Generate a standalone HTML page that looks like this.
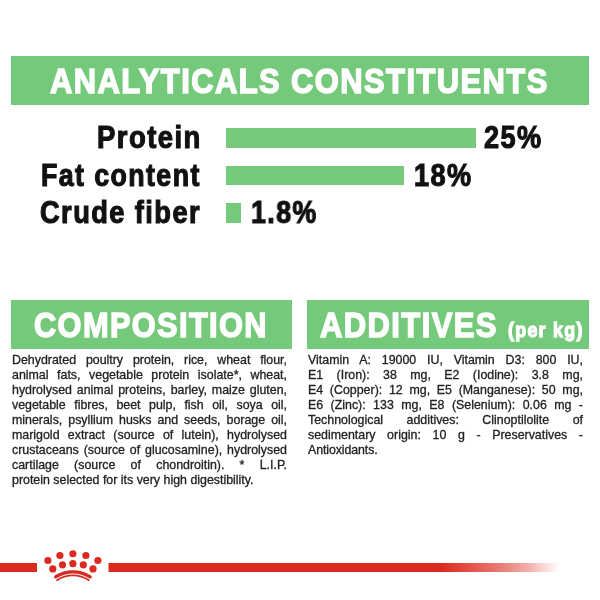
<!DOCTYPE html>
<html><head><meta charset="utf-8">
<style>
html,body{margin:0;padding:0;background:#fff;width:600px;height:600px;overflow:hidden;position:relative;font-family:"Liberation Sans",sans-serif;}
.ban{position:absolute;background:#74c97a;}
.t{position:absolute;white-space:nowrap;line-height:1;transform-origin:0 0;}
.h{color:#fff;font-weight:bold;-webkit-text-stroke-width:1.5px;letter-spacing:1.6px;}
.lab{color:#111;font-weight:bold;-webkit-text-stroke-width:1.1px;letter-spacing:1.6px;}
.bar{position:absolute;background:#74c97a;}
.txt{position:absolute;color:#222;font-size:12.4px;line-height:15px;letter-spacing:0px;-webkit-text-stroke:0.3px #222;}
.ln{white-space:nowrap;text-align:justify;text-align-last:justify;height:15px;}
.ln.last{text-align-last:left;}
.red{position:absolute;background:#db2a1e;}
</style></head><body>
<div id="wrap" style="position:absolute;left:0;top:0;width:600px;height:600px;will-change:transform;">
<div class="ban" style="left:11px;top:56px;width:578px;height:49px;"></div>
<div class="t h" id="h1" style="left:50px;top:63.4px;font-size:35px;transform:scaleX(0.8841);">ANALYTICALS CONSTITUENTS</div>

<div class="t lab" id="l1" style="left:97px;top:122px;font-size:30.5px;transform:scaleX(0.9018);">Protein</div>
<div class="t lab" id="l2" style="left:41px;top:159.6px;font-size:30.5px;transform:scaleX(0.8778);">Fat content</div>
<div class="t lab" id="l3" style="left:40px;top:197px;font-size:30.5px;transform:scaleX(0.8933);">Crude fiber</div>

<div class="bar" style="left:226px;top:128px;width:250px;height:20px;"></div>
<div class="bar" style="left:226px;top:166px;width:178px;height:19px;"></div>
<div class="bar" style="left:226px;top:203px;width:15px;height:20px;"></div>

<div class="t lab" id="p1" style="left:484px;top:122px;font-size:30.5px;transform:scaleX(0.8906);">25%</div>
<div class="t lab" id="p2" style="left:414px;top:159.6px;font-size:30.5px;transform:scaleX(0.8889);">18%</div>
<div class="t lab" id="p3" style="left:251px;top:197px;font-size:30.5px;transform:scaleX(0.8767);">1.8%</div>

<div class="ban" style="left:11px;top:300px;width:281px;height:49px;"></div>
<div class="t h" id="h2" style="left:34px;top:306.6px;font-size:35px;transform:scaleX(0.8779);">COMPOSITION</div>
<div class="ban" style="left:307px;top:300px;width:282px;height:49px;"></div>
<div class="t h" id="h3" style="left:320px;top:306.6px;font-size:35px;transform:scaleX(0.8844);">ADDITIVES</div>
<div class="t h" id="h4" style="left:508px;top:318.8px;font-size:21px;letter-spacing:1.5px;-webkit-text-stroke-width:1.3px;transform:scaleX(0.8506);">(per kg)</div>

<div class="txt" style="left:12px;top:352.8px;width:275px;">
<div class="ln">Dehydrated poultry protein, rice, wheat flour,</div>
<div class="ln">animal fats, vegetable protein isolate*, wheat,</div>
<div class="ln">hydrolysed animal proteins, barley, maize gluten,</div>
<div class="ln">vegetable fibres, beet pulp, fish oil, soya oil,</div>
<div class="ln">minerals, psyllium husks and seeds, borage oil,</div>
<div class="ln">marigold extract (source of lutein), hydrolysed</div>
<div class="ln">crustaceans (source of glucosamine), hydrolysed</div>
<div class="ln">cartilage (source of chondroitin). * L.I.P.</div>
<div class="ln last" style="letter-spacing:0px">protein selected for its very high digestibility.</div>
</div>

<div class="txt" style="left:308px;top:352.8px;width:275px;">
<div class="ln">Vitamin A: 19000 IU, Vitamin D3: 800 IU,</div>
<div class="ln">E1 (Iron): 38 mg, E2 (Iodine): 3.8 mg,</div>
<div class="ln">E4 (Copper): 12 mg, E5 (Manganese): 50 mg,</div>
<div class="ln">E6 (Zinc): 133 mg, E8 (Selenium): 0.06 mg -</div>
<div class="ln">Technological additives: Clinoptilolite of</div>
<div class="ln">sedimentary origin: 10 g - Preservatives -</div>
<div class="ln last" style="letter-spacing:-0.1px">Antioxidants.</div>
</div>

<svg style="position:absolute;left:0;top:540px;" width="600" height="60" viewBox="0 540 600 60">
<defs><linearGradient id="fade" x1="108" y1="0" x2="560" y2="0" gradientUnits="userSpaceOnUse">
<stop offset="0" stop-color="#db2a1e"/>
<stop offset="0.735" stop-color="#db2a1e"/>
<stop offset="0.867" stop-color="#db2a1e" stop-opacity="0.62"/>
<stop offset="0.929" stop-color="#db2a1e" stop-opacity="0.38"/>
<stop offset="0.965" stop-color="#db2a1e" stop-opacity="0.18"/>
<stop offset="1" stop-color="#db2a1e" stop-opacity="0"/>
</linearGradient></defs>
<rect x="0" y="563" width="37" height="9" fill="#db2a1e"/>
<rect x="108.5" y="563" width="451.5" height="9" fill="url(#fade)"/>
<g fill="#dc2a20">
<circle cx="47.9" cy="560.5" r="3.6"/><circle cx="59.9" cy="555.5" r="3.6"/><circle cx="72.9" cy="553.75" r="3.6"/><circle cx="85.9" cy="555.5" r="3.6"/><circle cx="97.9" cy="560.5" r="3.6"/>
<circle cx="52.8" cy="568.9" r="3.6"/><circle cx="62.5" cy="564.8" r="3.6"/><circle cx="72.9" cy="563.7" r="3.6"/><circle cx="83.3" cy="564.8" r="3.6"/><circle cx="93" cy="568.9" r="3.6"/>
</g>
<path d="M55.70 576.82 A32.25 32.25 0 0 1 90.10 576.82" stroke="#d42a22" stroke-width="3.4" stroke-linecap="round" fill="none"/>
<path d="M57.00 580.21 A28.70 28.70 0 0 1 88.80 580.21" stroke="#d42a22" stroke-width="1.7" stroke-linecap="round" fill="none"/>
</svg>
</div>
</body></html>
